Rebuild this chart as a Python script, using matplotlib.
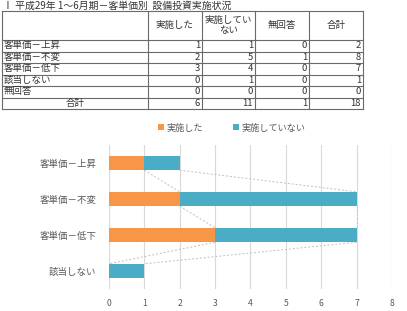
import numpy as np
import matplotlib.pyplot as plt

plt.rcParams['font.family'] = ['Noto Sans CJK JP', 'DejaVu Sans']

# table data
title = 'Ⅰ 平成29年 1～6月期－客単価別  設備投資実施状況'
rows = ['客単価－上昇', '客単価－不変', '客単価－低下', '該当しない', '無回答']
cols = ['実施した', '実施してい\nない', '無回答', '合計']
done = [1, 2, 3, 0, 0]
not_done = [1, 5, 4, 1, 0]
no_answer = [0, 1, 0, 0, 0]
totals = [2, 8, 7, 1, 0]
sum_label = '合計'

# chart data (無回答 is left out of the chart)
chart_cats = rows[:4]
chart_done = done[:4]
chart_not = not_done[:4]
series_names = ['実施した', '実施していない']

c_orange = '#F79646'
c_blue = '#4BACC6'
c_text = '#595959'

fig = plt.figure(figsize=(4.07, 3.11), dpi=100)

# table drawn in pixel coordinates
tab = fig.add_axes([0, 0, 1, 1])
tab.set_xlim(0, 407)
tab.set_ylim(311, 0)
tab.axis('off')

col_x = [2, 148, 202, 255, 309, 363]
top, head_bot, row_h = 11, 40, 11.5
n_rows = len(rows) + 1
bot = head_bot + n_rows * row_h
line_kw = dict(color='#6a6a6a', lw=0.8)

tab.text(3, 5.5, title, fontsize=7.1, va='center', ha='left', color='#333333')
tab.plot([col_x[0], col_x[-1]], [top, top], **line_kw)
for i in range(n_rows + 1):
    y = head_bot + i * row_h
    tab.plot([col_x[0], col_x[-1]], [y, y], **line_kw)
for x in col_x:
    tab.plot([x, x], [top, bot], **line_kw)

for j, c in enumerate(cols):
    tab.text((col_x[j + 1] + col_x[j + 2]) / 2, (top + head_bot) / 2, c,
             fontsize=6.8, ha='center', va='center', linespacing=1.1, color='#333333')

table_vals = [done, not_done, no_answer, totals]
for i, r in enumerate(rows):
    yc = head_bot + (i + 0.5) * row_h
    tab.text(col_x[0] + 2, yc, r, fontsize=6.8, ha='left', va='center', color='#333333')
    for j, vals in enumerate(table_vals):
        tab.text(col_x[j + 2] - 2, yc, str(vals[i]), fontsize=6.8,
                 ha='right', va='center', color='#333333')

yc = head_bot + (len(rows) + 0.5) * row_h
tab.text((col_x[0] + col_x[1]) / 2, yc, sum_label, fontsize=6.8,
         ha='center', va='center', color='#333333')
for j, vals in enumerate(table_vals):
    tab.text(col_x[j + 2] - 2, yc, str(sum(vals)), fontsize=6.8,
             ha='right', va='center', color='#333333')

# stacked bar chart
ax = fig.add_axes([0.2678, 0.0707, 0.6953, 0.463])
ypos = np.arange(len(chart_cats))
h = 0.4
b1 = ax.barh(ypos, chart_done, height=h, color=c_orange, label=series_names[0], zorder=3)
b2 = ax.barh(ypos, chart_not, left=chart_done, height=h, color=c_blue,
             label=series_names[1], zorder=3)

# series lines between bar ends
ends1 = np.array(chart_done)
ends2 = ends1 + np.array(chart_not)
for i in range(len(chart_cats) - 1):
    for ends in (ends1, ends2):
        ax.plot([ends[i], ends[i + 1]], [ypos[i] + h / 2, ypos[i + 1] - h / 2],
                ls=(0, (2, 2)), color='#BFBFBF', lw=0.7, zorder=2)

ax.set_xlim(0, 8)
ax.set_ylim(len(chart_cats) - 0.5, -0.5)
ax.set_xticks(range(0, 9))
ax.set_yticks(ypos)
ax.set_yticklabels(chart_cats)
ax.tick_params(axis='both', length=0, colors=c_text, labelsize=6.8)
ax.tick_params(axis='x', pad=7, labelsize=6.2)
ax.tick_params(axis='y', pad=9)
ax.grid(axis='x', color='#D9D9D9', lw=0.8, zorder=0)
for s in ax.spines.values():
    s.set_visible(False)
ax.set_facecolor('none')

fig.legend(handles=[b1, b2], labels=series_names, loc='center',
           bbox_to_anchor=(0.57, 1 - 128 / 311), ncol=2, frameon=False,
           fontsize=6.6, handlelength=0.6, handleheight=0.6, handletextpad=0.3,
           columnspacing=3.3, labelcolor=c_text)

fig.savefig('out.png', dpi=100)
